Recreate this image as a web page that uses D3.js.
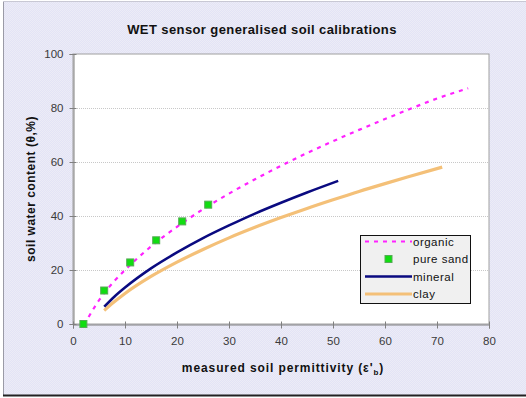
<!DOCTYPE html>
<html><head><meta charset="utf-8">
<script src="https://cdn.jsdelivr.net/npm/d3@7"></script>
<style>body{margin:0;background:#fff}svg{display:block}text{font-family:"Liberation Sans",Arial,sans-serif}</style>
</head><body>
<script>
const organicX = [3, 5, 8, 10, 15, 20, 25, 30, 35, 40, 45, 50, 55, 60, 65, 70, 76];
const organicY = [2.6, 8.8, 16.0, 20.0, 28.7, 36.0, 42.5, 48.3, 53.6, 58.6, 63.3, 67.7, 71.9, 75.9, 79.8, 83.5, 87.3];
const sandX = [2, 6, 11, 16, 21, 26];
const sandY = [0, 12.4, 22.8, 31, 38, 44.2];
const mineralX = [6, 8, 10, 15, 20, 25, 30, 35, 40, 45, 51];
const mineralY = [6.4, 10.2, 13.5, 20.6, 26.5, 31.8, 36.5, 40.9, 44.9, 48.7, 53.0];
const clayX = [6, 8, 10, 15, 20, 25, 30, 35, 40, 45, 50, 55, 60, 65, 71];
const clayY = [5.0, 8.3, 11.3, 17.6, 22.9, 27.6, 31.9, 35.8, 39.4, 42.8, 46.0, 49.1, 52.0, 54.8, 58.1];
const xTicks = [0, 10, 20, 30, 40, 50, 60, 70, 80];
const yTicks = [0, 20, 40, 60, 80, 100];
const legendLabels = ["organic", "pure sand", "mineral", "clay"];

const W = 526, H = 398;
const svg = d3.select("body").append("svg").attr("width", W).attr("height", H);

// background
const defs = svg.append("defs");
const pat = defs.append("pattern").attr("id", "dith").attr("width", 2).attr("height", 2).attr("patternUnits", "userSpaceOnUse");
pat.append("rect").attr("width", 2).attr("height", 2).attr("fill", "#e3e3f6");
pat.append("rect").attr("width", 1).attr("height", 1).attr("fill", "#ececf6");
pat.append("rect").attr("x", 1).attr("y", 1).attr("width", 1).attr("height", 1).attr("fill", "#ececf6");
svg.append("rect").attr("width", W).attr("height", H).attr("fill", "#fff");
svg.append("rect").attr("x", 3).attr("y", 1).attr("width", W - 3).attr("height", 394).attr("fill", "url(#dith)");
svg.append("line").attr("x1", 3.5).attr("x2", 3.5).attr("y1", 1).attr("y2", 395).attr("stroke", "#9a9aa6").attr("stroke-width", 1);
svg.append("line").attr("x1", 3).attr("x2", W).attr("y1", 1.5).attr("y2", 1.5).attr("stroke", "#c8c8d4").attr("stroke-width", 1);
svg.append("line").attr("x1", 3).attr("x2", W).attr("y1", 395.5).attr("y2", 395.5).attr("stroke", "#222").attr("stroke-width", 2);

const x = d3.scaleLinear().domain([0, 80]).range([73, 489]);
const y = d3.scaleLinear().domain([0, 100]).range([324, 54]);

// plot area
svg.append("rect").attr("x", 73).attr("y", 54).attr("width", 416).attr("height", 270).attr("fill", "#fff").attr("stroke", "#a0a0a0");

// grid
svg.append("g").selectAll("line").data(yTicks.filter(d => d > 0 && d < 100)).join("line")
  .attr("x1", 73).attr("x2", 489).attr("y1", d => y(d) + 0.5).attr("y2", d => y(d) + 0.5)
  .attr("stroke", "#c8c8c8").attr("stroke-dasharray", "1,1");

// axes
const xAxis = svg.append("g").attr("transform", "translate(0,324.5)")
  .call(d3.axisBottom(x).tickValues(xTicks).tickSize(4).tickPadding(8).tickFormat(d3.format("d")));
const yAxis = svg.append("g").attr("transform", "translate(73.5,0)")
  .call(d3.axisLeft(y).tickValues(yTicks).tickSize(4).tickPadding(6).tickFormat(d3.format("d")));
[xAxis, yAxis].forEach(a => {
  a.select(".domain").attr("stroke", "#808080");
  a.selectAll(".tick line").attr("stroke", "#808080");
  a.selectAll(".tick text").attr("fill", "#3a3a3a").attr("font-size", 11.5).attr("font-family", "'Liberation Sans',Arial,sans-serif");
});
xAxis.selectAll(".tick line").attr("y1", -3);
yAxis.selectAll(".tick line").attr("x1", 3);

const line = d3.line().x(d => x(d[0])).y(d => y(d[1])).curve(d3.curveMonotoneX);

const clay = d3.zip(clayX, clayY);
const mineral = d3.zip(mineralX, mineralY);
const organic = d3.zip(organicX, organicY);
const sand = d3.zip(sandX, sandY);

svg.append("path").datum(clay).attr("d", line).attr("fill", "none").attr("stroke", "#f4c078").attr("stroke-width", 3.2);
svg.append("path").datum(mineral).attr("d", line).attr("fill", "none").attr("stroke", "#0a0a80").attr("stroke-width", 2.5);
svg.append("path").datum(organic).attr("d", line).attr("fill", "none").attr("stroke", "#ff22ff").attr("stroke-width", 2.2).attr("stroke-dasharray", "4,5");
svg.append("g").selectAll("rect").data(sand).join("rect")
  .attr("x", d => x(d[0]) - 3.5).attr("y", d => y(d[1]) - 3.5).attr("width", 7).attr("height", 7)
  .attr("fill", "#11dd11").attr("stroke", "#55aa55").attr("stroke-width", 1);

// title
svg.append("text").attr("x", 262).attr("y", 34).attr("text-anchor", "middle").attr("font-weight", "bold").attr("font-size", 13).attr("letter-spacing", 0.4).attr("fill", "#111")
  .text("WET sensor generalised soil calibrations");

// axis titles
const xt = svg.append("text").attr("x", 283).attr("y", 372).attr("text-anchor", "middle").attr("font-weight", "bold").attr("font-size", 12).attr("letter-spacing", 0.9).attr("fill", "#111");
xt.append("tspan").text("measured soil permittivity (ε'");
xt.append("tspan").attr("font-size", 8).attr("dy", 3).text("b");
xt.append("tspan").attr("dy", -3).text(")");

svg.append("text").attr("transform", "translate(35,189) rotate(-90)").attr("text-anchor", "middle").attr("font-weight", "bold").attr("font-size", 12).attr("letter-spacing", 0.5).attr("fill", "#111")
  .text("soil water content (θ,%)");

// legend
const lg = svg.append("g");
lg.append("rect").attr("x", 360.5).attr("y", 235.5).attr("width", 110).attr("height", 68).attr("fill", "#f0f0f0").attr("stroke", "#111");
const rows = [241.5, 259, 276.5, 294];
lg.append("line").attr("x1", 365).attr("x2", 412).attr("y1", rows[0]).attr("y2", rows[0]).attr("stroke", "#ff22ff").attr("stroke-width", 2.2).attr("stroke-dasharray", "4,5");
lg.append("rect").attr("x", 385).attr("y", rows[1] - 3.5).attr("width", 7).attr("height", 7).attr("fill", "#11dd11").attr("stroke", "#55aa55");
lg.append("line").attr("x1", 365).attr("x2", 412).attr("y1", rows[2]).attr("y2", rows[2]).attr("stroke", "#0a0a80").attr("stroke-width", 2.5);
lg.append("line").attr("x1", 365).attr("x2", 412).attr("y1", rows[3]).attr("y2", rows[3]).attr("stroke", "#f4c078").attr("stroke-width", 3.2);
lg.selectAll("text.lab").data(legendLabels).join("text").attr("class", "lab")
  .attr("x", 413).attr("y", (d, i) => rows[i] + 4).attr("font-size", 11.5).attr("letter-spacing", 0.5).attr("fill", "#111").text(d => d);
</script>
</body></html>
